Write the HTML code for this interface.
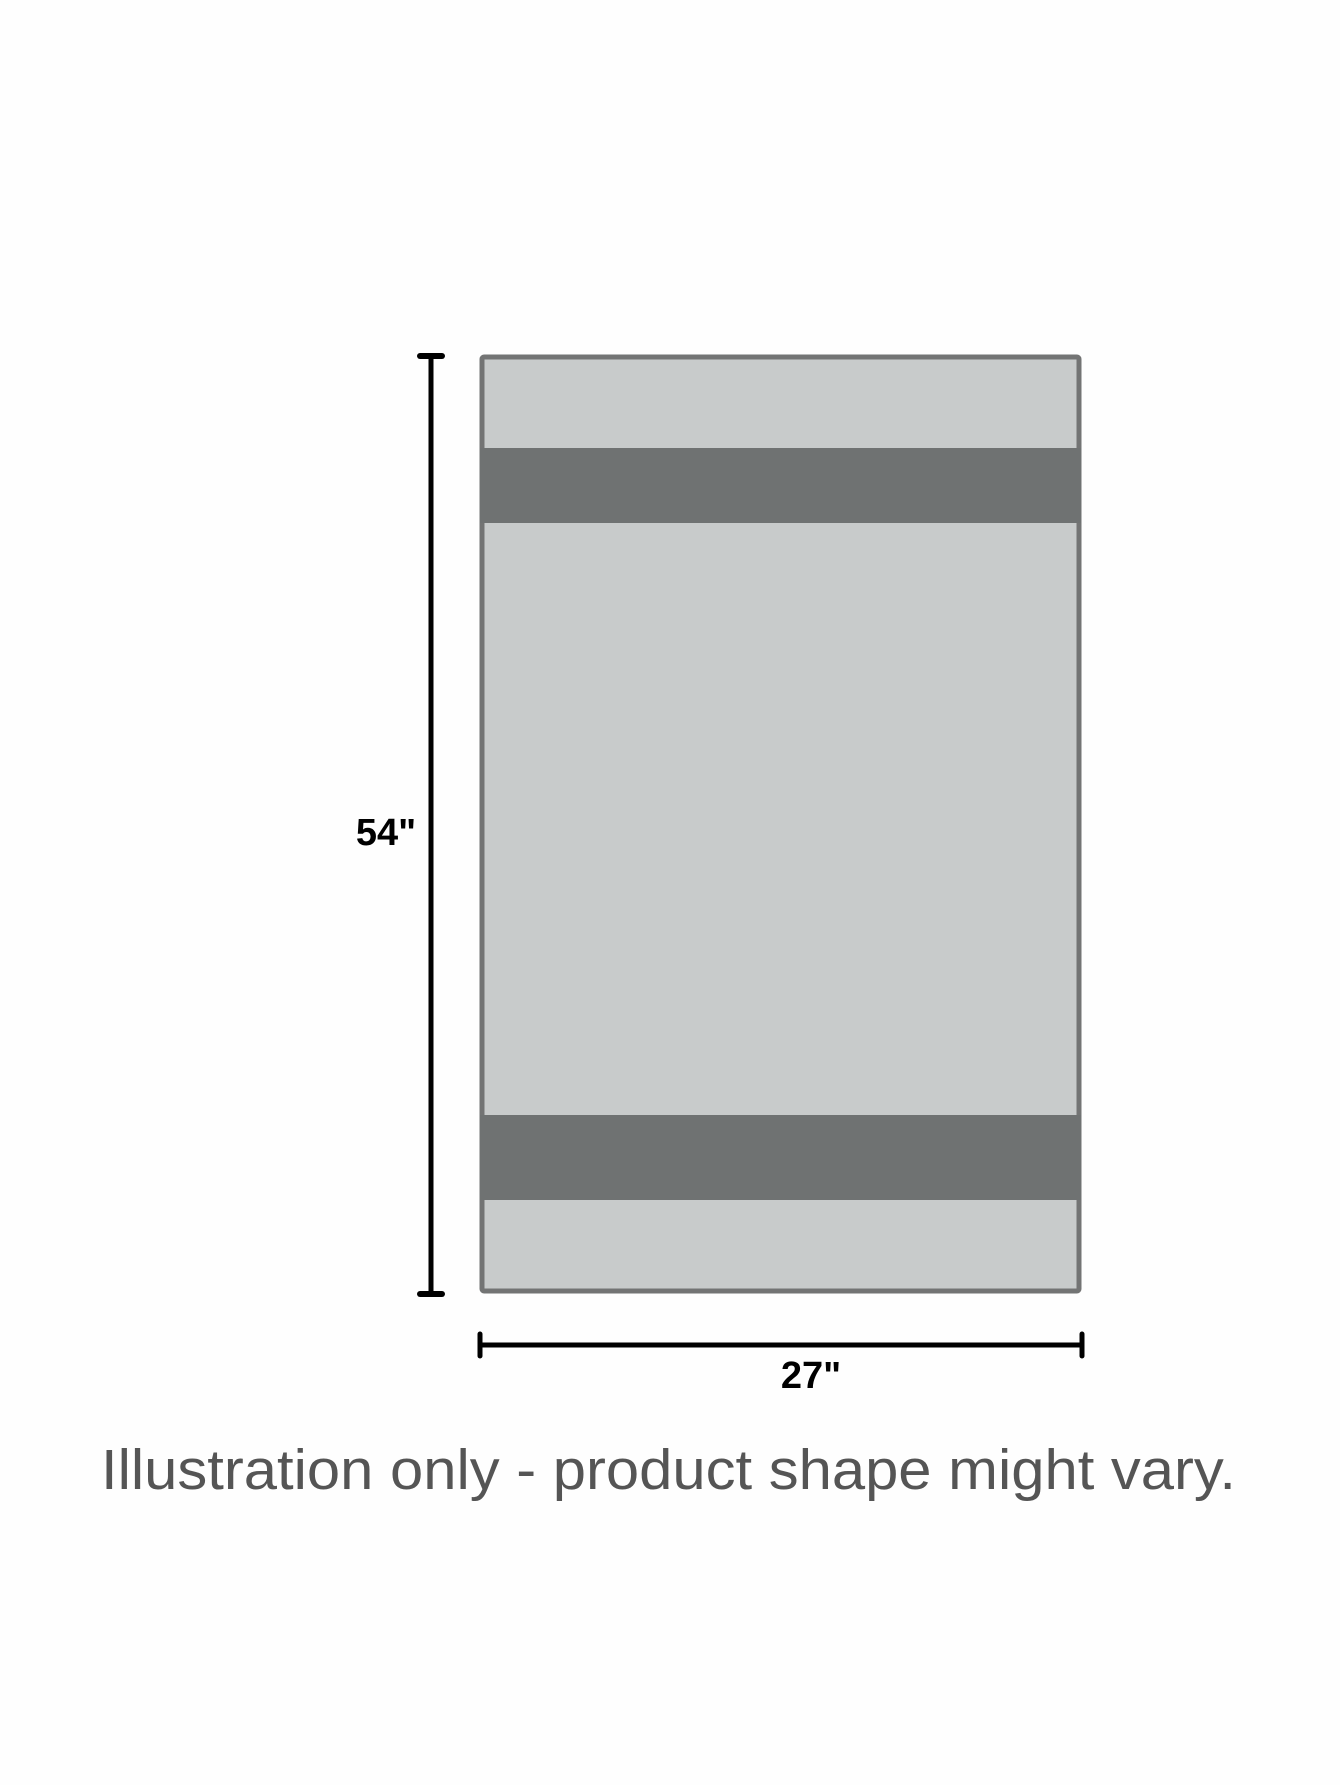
<!DOCTYPE html>
<html><head><meta charset="utf-8"><style>html,body{margin:0;padding:0;background:#fff}svg{display:block}</style></head>
<body>
<svg width="1340" height="1785" viewBox="0 0 1340 1785">
  <rect x="0" y="0" width="1340" height="1785" fill="#fefefe"/>
  <rect x="482" y="357" width="597" height="934" rx="2" fill="#c8cbcb" stroke="#737474" stroke-width="5"/>
  <rect x="480" y="448" width="601" height="75" fill="#6f7272"/>
  <rect x="480" y="1115" width="601" height="85" fill="#6f7272"/>
  <g stroke="#000" stroke-linecap="round">
    <line x1="431" y1="356" x2="431" y2="1294" stroke-width="5"/>
    <line x1="420" y1="356" x2="442" y2="356" stroke-width="6"/>
    <line x1="420" y1="1294" x2="442" y2="1294" stroke-width="6"/>
  </g>
  <text x="386" y="845" text-anchor="middle" font-family="Liberation Sans, sans-serif" font-weight="bold" font-size="38" fill="#000">54"</text>
  <g stroke="#000" stroke-linecap="round">
    <line x1="480" y1="1345" x2="1082" y2="1345" stroke-width="5"/>
    <line x1="480" y1="1334" x2="480" y2="1356" stroke-width="5"/>
    <line x1="1082" y1="1334" x2="1082" y2="1356" stroke-width="5"/>
  </g>
  <text x="811" y="1388" text-anchor="middle" font-family="Liberation Sans, sans-serif" font-weight="bold" font-size="38" fill="#000">27"</text>
  <text x="101" y="1489" textLength="1135" lengthAdjust="spacingAndGlyphs" font-family="Liberation Sans, sans-serif" font-size="57" fill="#555">Illustration only - product shape might vary.</text>
</svg>
</body></html>
